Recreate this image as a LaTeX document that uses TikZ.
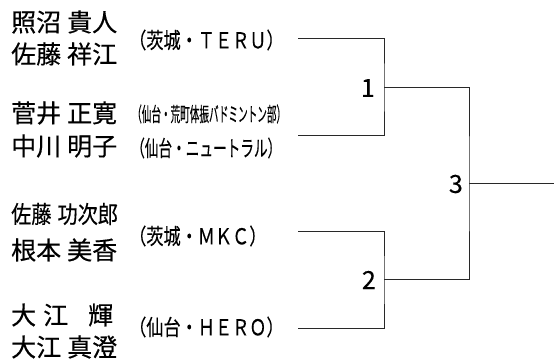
\documentclass[tikz,border=0pt]{standalone}
\usepackage{fontspec}
\usepackage{tikz}
\usetikzlibrary{positioning}
\newfontfamily\jpfont[FakeBold=0.4]{Noto Sans CJK JP}
\newfontfamily\jpmid[FakeStretch=0.84, FakeBold=0.4]{Noto Sans CJK JP}
\newfontfamily\jpteam[FakeStretch=0.78, FakeBold=0.3]{Noto Sans CJK JP}
\newfontfamily\jpnarrow[FakeStretch=0.62, FakeBold=0.3]{Noto Sans CJK JP}
\newfontfamily\jptiny[FakeStretch=0.48, FakeBold=0.2]{Noto Sans CJK JP}
\definecolor{brline}{RGB}{40,40,40}
\tikzset{
  player/.style={anchor=west, inner sep=0pt, font=\jpfont\fontsize{25}{25}\selectfont},
  team/.style={anchor=west, inner sep=0pt, font=\jpteam\fontsize{22}{22}\selectfont},
  seed/.style={inner sep=0pt, font=\jpfont\fontsize{25}{25}\selectfont},
  bracket/.style={line width=1pt, color=brline}
}
\begin{document}
\begin{tikzpicture}[x=1pt, y=-1pt]
  \useasboundingbox (0,0) rectangle (554,363);
  % players
  \node[player] (p1a) at (11,22) {照沼\hspace{6pt}貴人};
  \node[player] (p1b) at (11,54) {佐藤\hspace{6pt}祥江};
  \node[player] (p2a) at (11,113) {菅井\hspace{6pt}正寛};
  \node[player] (p2b) at (11,146) {中川\hspace{6pt}明子};
  \node[player, font=\jpmid\fontsize{24}{24}\selectfont] (p3a) at (11,214) {佐藤\hspace{6pt}功次郎};
  \node[player] (p3b) at (11,250) {根本\hspace{6pt}美香};
  \node[player] (p4a) at (11,315) {大\hspace{7pt}江\hspace{20pt}輝};
  \node[player] (p4b) at (11,347) {大江\hspace{6pt}真澄};
  % teams
  \node[team] (c1) at (129,40) {（茨城・ＴＥＲＵ）};
  \node[team, font=\jptiny\fontsize{20}{20}\selectfont] (c2a) at (132,114) {（仙台・荒町体振バドミントン部）};
  \node[team, font=\jpnarrow\fontsize{22}{22}\selectfont] (c2b) at (131,148) {（仙台・ニュートラル）};
  \node[team] (c3) at (129,236) {（茨城・ＭＫＣ）};
  \node[team] (c4) at (129,327) {（仙台・ＨＥＲＯ）};
  % bracket
  \coordinate (t1) at (298,39);
  \coordinate (t2) at (298,136);
  \coordinate (t3) at (298,232);
  \coordinate (t4) at (298,328);
  \coordinate (m1) at (384,88);
  \coordinate (m2) at (384,280);
  \coordinate (m3) at (469,184);
  \coordinate (fin) at (554,184);
  \draw[bracket] (t1) -| (m1) |- (t2);
  \draw[bracket] (t3) -| (m2) |- (t4);
  \draw[bracket] (m1) -| (m3) |- (m2);
  \draw[bracket] (m3) -- (fin);
  \node[seed, left=9pt of m1] (s1) {1};
  \node[seed, left=8pt of m2] (s2) {2};
  \node[seed, left=6pt of m3] (s3) {3};
\end{tikzpicture}
\end{document}
